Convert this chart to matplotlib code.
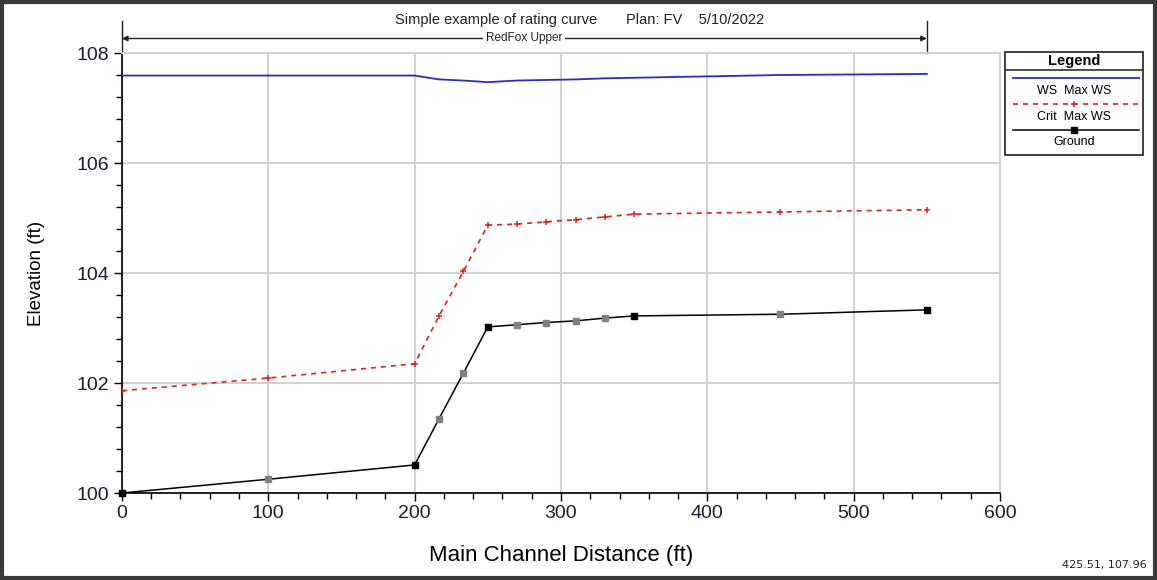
# Rating curve profile plot (HEC-RAS style)
import matplotlib
matplotlib.use("Agg")
import matplotlib.pyplot as plt
from matplotlib.lines import Line2D
from matplotlib.patches import Rectangle
from matplotlib.ticker import MultipleLocator

plt.rcParams['font.family'] = ['Liberation Sans', 'DejaVu Sans']

# Data read from the profile
distance = [0, 100, 200, 216.67, 233.33, 250, 270, 290, 310, 330, 350, 450, 550]
ws_max = [107.59, 107.59, 107.59, 107.52, 107.50, 107.47, 107.50, 107.51, 107.52,
          107.54, 107.55, 107.60, 107.62]
crit_max = [101.86, 102.09, 102.35, 103.22, 104.03, 104.87, 104.89, 104.93, 104.97,
            105.02, 105.07, 105.11, 105.15]
ground = [100.00, 100.25, 100.51, 101.35, 102.18, 103.02, 103.06, 103.10, 103.13,
          103.18, 103.22, 103.25, 103.33]
# surveyed sections drawn black, interpolated ones grey
surveyed = [True, False, True, False, False, True, False, False, False, False, True, False, True]

title = "Simple example of rating curve       Plan: FV    5/10/2022"
reach = "RedFox Upper"

fig = plt.figure(figsize=(11.57, 5.80), dpi=100)
ax = fig.add_axes([0.1054, 0.15, 0.7589, 0.7586])

tick_col = '#1c1c30'

ax.plot(distance, ws_max, color='#2a2ac8', lw=1.3, zorder=3)
ax.plot(distance, crit_max, color='#e02020', lw=1.2, ls=(0, (3, 3)),
        marker='+', ms=5, mew=1.1, zorder=3)
ax.plot(distance, ground, color='black', lw=1.1, zorder=3)
sx = [d for d, s in zip(distance, surveyed) if s]
sy = [g for g, s in zip(ground, surveyed) if s]
ix = [d for d, s in zip(distance, surveyed) if not s]
iy = [g for g, s in zip(ground, surveyed) if not s]
ax.plot(sx, sy, ls='none', marker='s', ms=5, color='black', zorder=4, clip_on=False)
ax.plot(ix, iy, ls='none', marker='s', ms=5, color='#808080', zorder=4)

ax.set_xlim(0, 600)
ax.set_ylim(100, 108)
ax.xaxis.set_major_locator(MultipleLocator(100))
ax.xaxis.set_minor_locator(MultipleLocator(20))
ax.yaxis.set_major_locator(MultipleLocator(2))
ax.yaxis.set_minor_locator(MultipleLocator(0.4))
ax.grid(True, which='major', color='#d2d2d2', lw=1.5, zorder=0)
ax.tick_params(which='major', length=6, width=1, labelsize=14, labelcolor=tick_col, pad=3)
ax.tick_params(which='minor', length=4, width=1)
for side in ['top', 'right']:
    ax.spines[side].set_color('#d2d2d2')
    ax.spines[side].set_linewidth(1.5)
for side in ['left', 'bottom']:
    ax.spines[side].set_linewidth(1.2)

ax.set_xlabel('Main Channel Distance (ft)', fontsize=16, labelpad=16)
ax.set_ylabel('Elevation (ft)', fontsize=13.5, labelpad=23)

# title and reach arrow
fig.text(0.501, 0.966, title, ha='center', va='center', fontsize=10.5, color='#202020')
trans = ('data', 'axes fraction')
ax.annotate('', xy=(0, 1.033), xytext=(distance[-1], 1.033), xycoords=trans, textcoords=trans,
            arrowprops=dict(arrowstyle='<|-|>', color='#202020', lw=1.0, mutation_scale=8,
                            shrinkA=0, shrinkB=0), annotation_clip=False)
for xe in [0, distance[-1]]:
    ax.plot([xe, xe], [1.0, 1.072], transform=ax.get_xaxis_transform(),
            color='#202020', lw=1.0, clip_on=False)
ax.text(distance[-1] / 2, 1.033, reach, transform=ax.get_xaxis_transform(), ha='center',
        va='center', fontsize=8.5, color='#202020',
        bbox=dict(facecolor='white', edgecolor='none', pad=2))

# legend box
lx0, lx1 = 1005 / 1157, 1143 / 1157
ly0, ly1 = 1 - 155 / 580, 1 - 52 / 580
fig.add_artist(Rectangle((lx0, ly0), lx1 - lx0, ly1 - ly0, transform=fig.transFigure,
                         facecolor='white', edgecolor='#303030', lw=1.3))
fig.add_artist(Line2D([lx0, lx1], [1 - 70 / 580] * 2, transform=fig.transFigure,
                      color='#303030', lw=1.2))
lcx = (lx0 + lx1) / 2
fig.text(lcx, 1 - 61 / 580, 'Legend', ha='center', va='center', fontsize=10.5, weight='bold')
sx0, sx1 = 1013 / 1157, 1139 / 1157
fig.add_artist(Line2D([sx0, sx1], [1 - 78 / 580] * 2, transform=fig.transFigure,
                      color='#2a2ac8', lw=1.3))
fig.text(lcx, 1 - 91 / 580, 'WS  Max WS', ha='center', va='center', fontsize=9)
fig.add_artist(Line2D([sx0, sx1], [1 - 104 / 580] * 2, transform=fig.transFigure,
                      color='#e02020', lw=1.2, ls=(0, (3, 3))))
fig.add_artist(Line2D([lcx], [1 - 104 / 580], transform=fig.transFigure, ls='none',
                      marker='+', ms=5, mew=1.1, color='#e02020'))
fig.text(lcx, 1 - 117 / 580, 'Crit  Max WS', ha='center', va='center', fontsize=9)
fig.add_artist(Line2D([sx0, sx1], [1 - 130 / 580] * 2, transform=fig.transFigure,
                      color='black', lw=1.1))
fig.add_artist(Line2D([lcx], [1 - 130 / 580], transform=fig.transFigure, ls='none',
                      marker='s', ms=5, color='black'))
fig.text(lcx, 1 - 142 / 580, 'Ground', ha='center', va='center', fontsize=9)

# cursor readout and window frame
fig.text(1147 / 1157, 1 - 565 / 580, '425.51, 107.96', ha='right', va='center',
         fontsize=8, family='DejaVu Sans', color='#202020')
fig.add_artist(Rectangle((0.002, 0.004), 0.996, 0.993, transform=fig.transFigure,
                         facecolor='none', edgecolor='#3a3a3a', lw=3))

fig.savefig('out.png', dpi=100)
